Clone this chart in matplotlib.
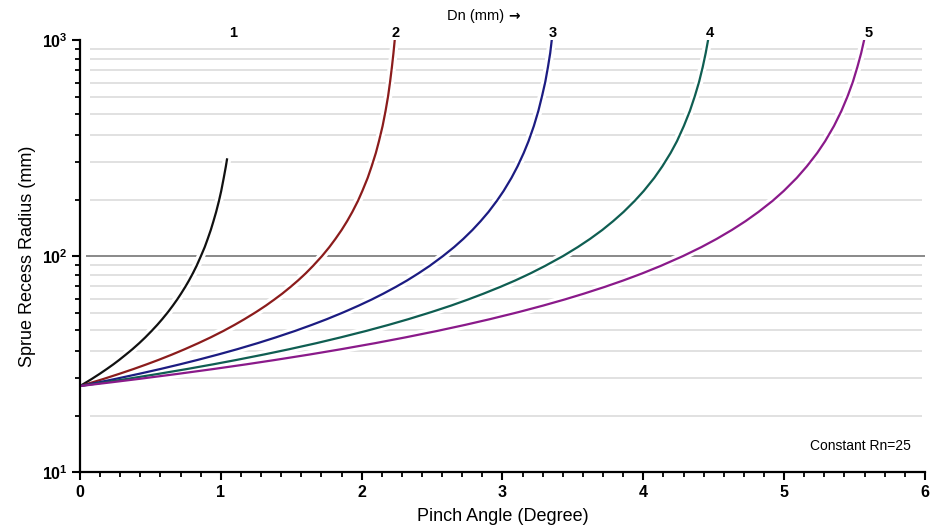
import matplotlib
matplotlib.use("Agg")
import matplotlib.pyplot as plt
from matplotlib.ticker import FixedLocator, NullFormatter

plt.rcParams['font.family'] = ['Liberation Sans', 'DejaVu Sans']
plt.rcParams['mathtext.fontset'] = 'custom'
plt.rcParams['mathtext.rm'] = 'Liberation Sans'
plt.rcParams['mathtext.bf'] = 'Liberation Sans:bold'

# ---- data ----
curve_labels = ["1", "2", "3", "4", "5"]
colors = ["#111111", "#8b1c1c", "#1c1c82", "#0f5e52", "#8a1a8a"]

y_c1 = [25, 26, 27, 28.5, 30, 31.5, 33, 35, 37, 39.5, 42, 45, 48, 51, 55, 59, 63,
        67, 72, 77, 83, 90, 100, 110, 120, 132, 145, 160, 180, 200, 230, 260, 280]
x_c1 = [0, 0.044, 0.085, 0.141, 0.191, 0.237, 0.278, 0.327, 0.372, 0.421, 0.464,
        0.509, 0.549, 0.584, 0.625, 0.660, 0.691, 0.718, 0.748, 0.774, 0.801, 0.828,
        0.859, 0.886, 0.907, 0.929, 0.948, 0.967, 0.987, 1.003, 1.021, 1.036, 1.044]

y_c = [25, 26, 27, 28.5, 30, 31.5, 33, 35, 37, 39.5, 42, 45, 48, 51, 55, 59, 63,
       67, 72, 77, 83, 90, 100, 110, 120, 132, 145, 160, 180, 200, 230, 260, 300,
       340, 400, 470, 550, 640, 750, 870, 1000]
x_c2 = [0, 0.088, 0.170, 0.281, 0.382, 0.473, 0.556, 0.655, 0.743, 0.841, 0.928,
        1.019, 1.098, 1.168, 1.250, 1.321, 1.382, 1.437, 1.496, 1.548, 1.602, 1.655,
        1.719, 1.771, 1.814, 1.858, 1.897, 1.934, 1.974, 2.005, 2.043, 2.071, 2.101,
        2.123, 2.149, 2.170, 2.188, 2.202, 2.215, 2.226, 2.235]
x_c3 = [0, 0.132, 0.255, 0.422, 0.573, 0.709, 0.833, 0.982, 1.115, 1.262, 1.391,
        1.528, 1.647, 1.753, 1.875, 1.981, 2.074, 2.155, 2.244, 2.322, 2.402, 2.483,
        2.578, 2.657, 2.722, 2.787, 2.845, 2.901, 2.960, 3.008, 3.064, 3.107, 3.151,
        3.185, 3.223, 3.255, 3.281, 3.304, 3.323, 3.339, 3.350]
x_c4 = [0, 0.176, 0.339, 0.562, 0.763, 0.944, 1.109, 1.307, 1.484, 1.680, 1.851,
        2.033, 2.192, 2.332, 2.495, 2.637, 2.759, 2.867, 2.986, 3.090, 3.197, 3.303,
        3.431, 3.535, 3.622, 3.709, 3.786, 3.860, 3.939, 4.003, 4.078, 4.135, 4.194,
        4.239, 4.288, 4.331, 4.366, 4.396, 4.422, 4.443, 4.460]
x_c5 = [0, 0.220, 0.423, 0.701, 0.952, 1.179, 1.384, 1.632, 1.852, 2.097, 2.311,
        2.538, 2.736, 2.911, 3.115, 3.291, 3.445, 3.580, 3.728, 3.857, 3.991, 4.124,
        4.283, 4.413, 4.521, 4.629, 4.726, 4.818, 4.918, 4.997, 5.090, 5.161, 5.235,
        5.291, 5.354, 5.407, 5.451, 5.488, 5.520, 5.547, 5.568]

series = [(x_c1, y_c1), (x_c2, y_c), (x_c3, y_c), (x_c4, y_c), (x_c5, y_c)]

label_x = [1.09, 2.24, 3.36, 4.47, 5.60]

x_ticks = [0, 1, 2, 3, 4, 5, 6]
y_major = [10, 100, 1000]
y_major_labels = [r"$\mathbf{10^{1}}$", r"$\mathbf{10^{2}}$", r"$\mathbf{10^{3}}$"]
y_minor_low = [18.1, 27.2, 36.3, 45.4, 54.5, 63.5, 72.6, 81.6, 90.7]
y_minor = y_minor_low + [v * 10 for v in y_minor_low]

# ---- figure ----
fig = plt.figure(figsize=(9.33, 5.31), dpi=100)
ax = fig.add_axes([0.0857, 0.1111, 0.9057, 0.8136])
ax.set_yscale('log')
ax.set_xlim(0, 6)
ax.set_ylim(10, 1000)

# grid lines
ax.hlines(y_minor, 0.07, 5.98, colors="#dedede", linewidth=1.3, zorder=1)
ax.hlines([100], 0.04, 6.0, colors="#808080", linewidth=1.3, zorder=1)

# white halos then curves
for (xs, ys) in series:
    ax.plot(xs, ys, color="white", linewidth=6, solid_capstyle='butt', zorder=2)
for (xs, ys), c in zip(series, colors):
    ax.plot(xs, ys, color=c, linewidth=1.6, zorder=3)

# curve labels
for lx, lab in zip(label_x, curve_labels):
    ax.text(lx, 1080, lab, ha='center', va='center', fontsize=10.5, fontweight='bold',
            clip_on=False)
ax.text(3.01, 1290, "Dn (mm)", ha='right', va='center', fontsize=10.5, clip_on=False)
ax.text(3.04, 1290, "\u2192", ha='left', va='center', fontsize=10,
        fontweight='bold', family=['DejaVu Sans'], clip_on=False)
ax.text(5.9, 13.2, "Constant Rn=25", ha='right', va='center', fontsize=10)

# axes styling
for s in ['top', 'right']:
    ax.spines[s].set_visible(False)
for s in ['left', 'bottom']:
    ax.spines[s].set_linewidth(1.6)
    ax.spines[s].set_zorder(4)

ax.set_xticks(x_ticks)
ax.set_xticklabels([str(v) for v in x_ticks], fontsize=11.5, fontweight='bold')
ax.xaxis.set_minor_locator(FixedLocator([i / 7 for i in range(43) if i % 7 != 0]))
ax.set_yticks(y_major)
ax.set_yticklabels(y_major_labels, fontsize=11.5)
ax.yaxis.set_minor_locator(FixedLocator(y_minor))
ax.yaxis.set_minor_formatter(NullFormatter())

ax.tick_params(axis='both', which='major', direction='out', length=6, width=1.5,
               colors='black', pad=3)
ax.tick_params(axis='both', which='minor', direction='out', length=3.5, width=1.3)

ax.set_xlabel("Pinch Angle (Degree)", fontsize=13, labelpad=6)
ax.set_ylabel("Sprue Recess Radius (mm)", fontsize=13, labelpad=4)

fig.savefig("out.png", dpi=100)
